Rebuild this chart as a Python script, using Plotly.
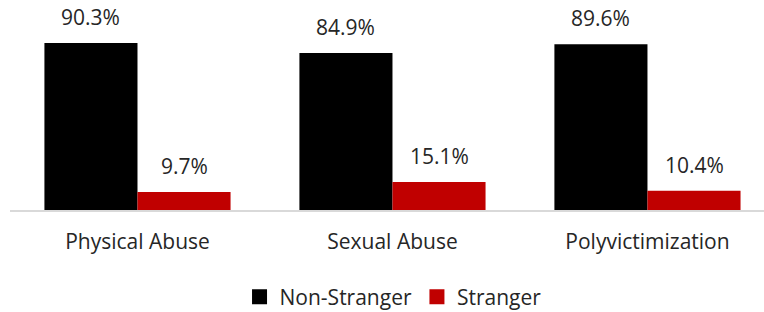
import plotly.graph_objects as go

categories = ["Physical Abuse", "Sexual Abuse", "Polyvictimization"]
non_stranger = [90.3, 84.9, 89.6]
stranger = [9.7, 15.1, 10.4]
series_names = ["Non-Stranger", "Stranger"]
colors = ["#000000", "#C00000"]

FONT = "Open Sans, Noto Sans, sans-serif"
FS = 21
TXT = "#262626"
x = list(range(len(categories)))

fig = go.Figure()
for name, vals, col in zip(series_names, [non_stranger, stranger], colors):
    fig.add_trace(go.Bar(x=x, y=vals, name=name, marker=dict(color=col, line=dict(width=0)),
                         offsetgroup=name, showlegend=False))
# legend entries with larger square swatches
for name, col in zip(series_names, colors):
    fig.add_trace(go.Scatter(x=[None], y=[None], mode="markers", name=name,
                             marker=dict(symbol="square", size=15, color=col)))

# value labels
offsets = [-0.1825, 0.1825]
for off, vals in zip(offsets, [non_stranger, stranger]):
    for xi, v in zip(x, vals):
        fig.add_annotation(x=xi + off, y=v, text=f"{v:.1f}%", showarrow=False,
                           yanchor="bottom", yshift=10,
                           font=dict(family=FONT, size=FS, color=TXT))

fig.update_layout(
    width=764, height=312,
    margin=dict(l=10, r=0, t=10, b=102),
    paper_bgcolor="white", plot_bgcolor="white",
    barmode="group", bargap=0.27, bargroupgap=0,
    showlegend=True,
    legend=dict(orientation="h", x=0.508, xanchor="center",
                yref="container", y=15 / 312, yanchor="middle",
                font=dict(family=FONT, size=FS, color=TXT), traceorder="normal",
                itemwidth=30),
    font=dict(family=FONT, size=FS, color=TXT),
)
fig.update_xaxes(range=[-0.5, 2.457], tickvals=x, ticktext=categories, showgrid=False,
                 zeroline=False, showline=True, linecolor="#d9d9d9", linewidth=2,
                 ticks="", ticklabelstandoff=12,
                 tickfont=dict(family=FONT, size=FS, color=TXT))
fig.update_yaxes(range=[0, 108.1], visible=False)

fig.write_html("out.html", config={"displayModeBar": False},
               post_script="document.body.style.margin='0px';")
